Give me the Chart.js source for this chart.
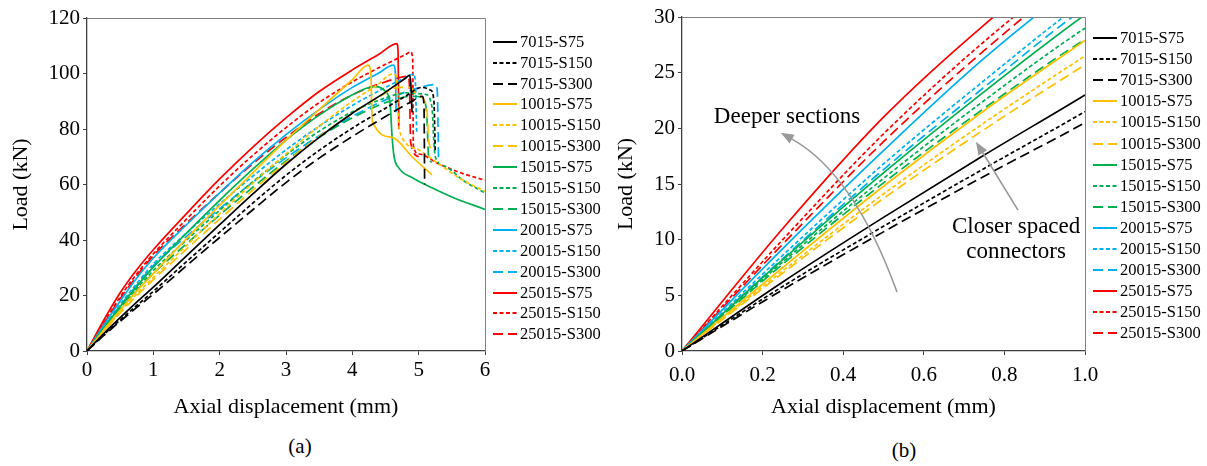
<!DOCTYPE html>
<html><head><meta charset="utf-8">
<script src="https://cdn.jsdelivr.net/npm/chart.js@4.4.1/dist/chart.umd.min.js"></script>
<style>
html,body{margin:0;padding:0;background:#fff}
body{width:1207px;height:466px;overflow:hidden;position:relative;font-family:"Liberation Serif","Times New Roman",serif;color:#000}
.wrap{position:absolute;top:0}
.row{position:absolute;height:20px;display:flex;align-items:center;white-space:nowrap;font-size:16.5px;line-height:20px}
.row svg{margin-right:3px;display:block}
.cap{position:absolute;font-size:21px;transform:translateX(-50%)}
</style></head><body>
<div class="wrap" style="left:0;width:495px;height:420px"><canvas id="ca" width="495" height="420"></canvas></div>
<div class="wrap" style="left:600px;width:515px;height:420px"><canvas id="cb" width="515" height="420"></canvas></div>
<div id="lega"></div><div id="legb"></div>
<div class="cap" style="left:300px;top:434px">(a)</div>
<div class="cap" style="left:904px;top:438px">(b)</div>
<script>
// ---------- data (axial displacement mm, load kN) ----------
const seriesNames = ["7015-S75","7015-S150","7015-S300","10015-S75","10015-S150","10015-S300","15015-S75","15015-S150","15015-S300","20015-S75","20015-S150","20015-S300","25015-S75","25015-S150","25015-S300"];

const s7015_S75  = [[0,0],[0.25,6.2],[0.5,12],[0.75,17.6],[1,23],[1.5,34.3],[2,45.5],[2.5,56.6],[3,67.3],[3.5,77],[4,85.7],[4.5,93.3],[4.8,98.3],[4.86,99.3],[4.88,97],[4.9,86]];
const s7015_S150 = [[0,0],[0.25,5.8],[0.5,11.2],[0.75,16.4],[1,21.5],[1.5,32.2],[2,42.8],[2.5,53.3],[3,63.3],[3.5,72.3],[4,80.3],[4.5,87.5],[4.8,91.8],[5.05,95],[5.18,94],[5.23,90],[5.25,72]];
const s7015_S300 = [[0,0],[0.25,5.5],[0.5,10.7],[0.75,15.7],[1,20.5],[1.5,30.7],[2,40.9],[2.5,50.9],[3,60.7],[3.5,69.5],[4,77.3],[4.5,84.5],[4.9,90],[5.05,91.8],[5.08,89],[5.09,60]];
const s10015_S75  = [[0,0],[0.25,7.5],[0.5,14.8],[0.75,21.6],[1,27.9],[1.5,40.5],[2,52.5],[2.5,64.2],[3,76],[3.5,87],[4,97.8],[4.24,103],[4.28,100],[4.3,83],[4.6,77],[4.9,70],[5.2,63.5]];
const s10015_S150 = [[0,0],[0.25,7.2],[0.5,14.1],[0.75,20.5],[1,26.5],[1.5,38],[2,49.5],[2.5,60.5],[3,71],[3.5,81],[4,90],[4.4,96.3],[4.6,99.8],[4.66,99.3],[4.7,82],[4.75,77],[5,72.5],[5.3,67.5],[5.6,62.5],[6,57.5]];
const s10015_S300 = [[0,0],[0.25,7],[0.5,13.7],[0.75,19.9],[1,25.7],[1.5,36.7],[2,47.5],[2.5,58],[3,68],[3.5,77.3],[4,85.6],[4.4,91.5],[4.7,95],[4.85,95],[5,92],[5.12,88],[5.15,76],[5.18,73]];
const s15015_S75  = [[0,0],[0.25,8.2],[0.5,16],[0.75,23.3],[1,30.2],[1.5,42.5],[2,54.3],[2.5,65.5],[3,76],[3.5,85],[4,92.3],[4.2,94.6],[4.35,95.3],[4.5,93.5],[4.57,89],[4.6,77],[4.63,70],[4.7,66],[4.9,62.5],[5.2,58.8],[5.5,55.5],[6,51]];
const s15015_S150 = [[0,0],[0.25,8],[0.5,15.5],[0.75,22.5],[1,29],[1.5,40],[2,50.7],[2.5,61],[3,70.6],[3.5,79.2],[4,86.2],[4.5,91.2],[4.8,93],[5.1,92.5],[5.2,88],[5.23,75],[5.25,70],[5.4,66.5],[5.7,61],[6,57]];
const s15015_S300 = [[0,0],[0.25,7.8],[0.5,15.1],[0.75,21.8],[1,28],[1.5,38.6],[2,49],[2.5,59],[3,68.5],[3.5,77],[4,84],[4.5,89.5],[4.9,91.8],[5.05,91.5],[5.12,86],[5.15,70],[5.2,68]];
const s20015_S75  = [[0,0],[0.25,9.2],[0.5,18],[0.75,26.3],[1,33.5],[1.5,45.5],[2,57],[2.5,68],[3,78],[3.5,87],[4,95],[4.4,100.2],[4.62,103],[4.65,100],[4.66,86]];
const s20015_S150 = [[0,0],[0.25,8.6],[0.5,16.8],[0.75,24.3],[1,31.4],[1.5,42.5],[2,53],[2.5,63],[3,72.5],[3.5,81],[4,88.5],[4.5,95],[4.8,98.5],[4.92,99.8],[4.95,97],[4.97,79]];
const s20015_S300 = [[0,0],[0.25,8.3],[0.5,16.3],[0.75,23.7],[1,30.8],[1.5,41.3],[2,51.3],[2.5,60.8],[3,69.6],[3.5,77.6],[4,84.6],[4.5,90.5],[5,94.8],[5.25,96],[5.28,94],[5.3,69]];
const s25015_S75  = [[0,0],[0.25,11],[0.5,21],[0.75,29.3],[1,36.5],[1.5,49.5],[2,62],[2.5,73.5],[3,84],[3.5,93.5],[4,101.3],[4.4,106.9],[4.67,110.8],[4.69,108],[4.7,80]];
const s25015_S150 = [[0,0],[0.25,10],[0.5,19.5],[0.75,27.8],[1,35],[1.5,47.5],[2,59.5],[2.5,70.5],[3,80.5],[3.5,89.5],[4,97],[4.5,103.3],[4.8,106.8],[4.88,107.8],[4.91,105],[4.92,74],[5,71],[5.3,67.5],[5.6,64.5],[6,61.5]];
const s25015_S300 = [[0,0],[0.25,9.6],[0.5,18.8],[0.75,27],[1,34.3],[1.5,46],[2,57],[2.5,67.5],[3,77],[3.5,85.5],[4,92.3],[4.5,97],[4.84,99],[4.86,96],[4.88,75],[5,70]];

const seriesData = [s7015_S75,s7015_S150,s7015_S300,s10015_S75,s10015_S150,s10015_S300,s15015_S75,s15015_S150,s15015_S300,s20015_S75,s20015_S150,s20015_S300,s25015_S75,s25015_S150,s25015_S300];

const ticksA_x = [0,1,2,3,4,5,6];
const ticksA_y = [0,20,40,60,80,100,120];
const ticksB_x = [0,0.2,0.4,0.6,0.8,1.0];
const ticksB_y = [0,5,10,15,20,25,30];

// ---------- styles ----------
const groupColors = ["#000000","#FFC000","#00B050","#00B0F0","#FF0000"];
const spacingDash = [[],[4,2.5],[10,5]];
const LW = 1.7;
const FONT = '"Liberation Serif","Times New Roman",serif';

function makeDatasets(){
  return seriesData.map((d,i)=>({
    label: seriesNames[i],
    data: d.map(p=>({x:p[0],y:p[1]})),
    borderColor: groupColors[Math.floor(i/3)],
    borderDash: spacingDash[i%3],
    borderWidth: LW,
    pointRadius: 0,
    fill: false,
    cubicInterpolationMode: 'monotone'
  }));
}

const framePlugin = {
  id:'frame',
  afterDatasetsDraw(chart){
    const {ctx, chartArea:a} = chart;
    ctx.save();
    ctx.strokeStyle = '#808080'; ctx.lineWidth = 1;
    ctx.beginPath();
    ctx.moveTo(a.left, a.top+0.5); ctx.lineTo(a.right+0.5, a.top+0.5); ctx.lineTo(a.right+0.5, a.bottom);
    ctx.stroke();
    ctx.restore();
  }
};

function scaleCfg(ticks, title, isX, yw, titlePad, fmt, tickPad){
  return {
    type:'linear', min:ticks[0], max:ticks[ticks.length-1],
    afterBuildTicks(s){ s.ticks = ticks.map(v=>({value:v})); },
    afterFit(s){
      if(isX) s.height = 69; else s.width = yw;
      s.paddingLeft = 0; s.paddingRight = 0; s.paddingTop = 0; s.paddingBottom = 0;
    },
    border:{display:true,color:'#404040',width:1.3},
    grid:{display:true,drawOnChartArea:false,drawTicks:true,tickLength:4,color:'#404040'},
    ticks:{color:'#000',font:{family:FONT,size:21},padding:tickPad,maxRotation:0,autoSkip:false,
      callback:(v)=>fmt?v.toFixed(1):String(v)},
    title:{display:true,text:title,color:'#000',font:{family:FONT,size:22},padding:{top:titlePad,bottom:0}}
  };
}

function baseOptions(xT,yT,yw,yPad,fmtX,xPad,xTickPad,top,right){
  return {
    responsive:false, animation:false, devicePixelRatio:1,
    layout:{padding:{top:top,right:right,left:0,bottom:0}},
    plugins:{legend:{display:false},tooltip:{enabled:false}},
    scales:{
      x: scaleCfg(xT,'Axial displacement (mm)',true,0,xPad,fmtX,xTickPad),
      y: scaleCfg(yT,'Load (kN)',false,yw,yPad,false,3)
    }
  };
}

// panel (a)
new Chart(document.getElementById('ca'),{
  type:'line',
  data:{datasets:makeDatasets()},
  options:baseOptions(ticksA_x,ticksA_y,87,8,false,5,3,18,10),
  plugins:[framePlugin]
});

// annotations of panel (b), in data coordinates
const deeperText = {x:0.2605, y:21.0, lines:["Deeper sections"]};
const deeperArrow = {from:[0.5335,5.3], ctrl:[0.4268,15.9], to:[0.245,19.6]};
const closerText = {x:0.829, y:11.14, lines:["Closer spaced","connectors"]};
const closerArrow = {from:[0.8337,12.66], ctrl:null, to:[0.7295,18.8]};

const notesPlugin = {
  id:'notes',
  afterDatasetsDraw(chart){
    const ctx = chart.ctx, sx = chart.scales.x, sy = chart.scales.y;
    const P = p => [sx.getPixelForValue(p[0]), sy.getPixelForValue(p[1])];
    ctx.save();
    ctx.strokeStyle = '#999999'; ctx.fillStyle = '#999999'; ctx.lineWidth = 1.6;
    [deeperArrow, closerArrow].forEach(a=>{
      const f = P(a.from), t = P(a.to);
      const c = a.ctrl ? P(a.ctrl) : null;
      const ref = c || f;
      const ang = Math.atan2(t[1]-ref[1], t[0]-ref[0]);
      const hl = 13, hw = 5;
      const bx = t[0]-hl*Math.cos(ang), by = t[1]-hl*Math.sin(ang);
      ctx.beginPath();
      ctx.moveTo(f[0],f[1]);
      if(c) ctx.quadraticCurveTo(c[0],c[1],bx,by); else ctx.lineTo(bx,by);
      ctx.stroke();
      ctx.beginPath();
      ctx.moveTo(t[0],t[1]);
      ctx.lineTo(bx+hw*Math.sin(ang), by-hw*Math.cos(ang));
      ctx.lineTo(bx-hw*Math.sin(ang), by+hw*Math.cos(ang));
      ctx.closePath(); ctx.fill();
    });
    ctx.fillStyle = '#000';
    ctx.font = '23px ' + FONT;
    ctx.textAlign = 'center'; ctx.textBaseline = 'middle';
    [deeperText, closerText].forEach(tx=>{
      const p = P([tx.x, tx.y]);
      tx.lines.forEach((l,k)=>ctx.fillText(l, p[0], p[1] + k*25));
    });
    ctx.restore();
  }
};

// panel (b)
new Chart(document.getElementById('cb'),{
  type:'line',
  data:{datasets:makeDatasets()},
  options:baseOptions(ticksB_x,ticksB_y,82,13,true,2,8,17,30),
  plugins:[framePlugin, notesPlugin]
});

// legends (HTML)
function buildLegend(id, left, top0, step){
  const el = document.getElementById(id);
  seriesNames.forEach((n,i)=>{
    const r = document.createElement('div');
    r.className = 'row';
    r.style.left = left + 'px';
    r.style.top = (top0 + i*step - 10) + 'px';
    const dash = spacingDash[i%3].join(',');
    r.innerHTML = '<svg width="24" height="6"><line x1="0" y1="3" x2="24" y2="3" stroke="'+groupColors[Math.floor(i/3)]+'" stroke-width="2"'+(dash?' stroke-dasharray="'+dash+'"':'')+'/></svg><span>'+n+'</span>';
    el.appendChild(r);
  });
}
buildLegend('lega', 493, 41.7, 20.9);
buildLegend('legb', 1093, 38, 21.1);
</script>
</body></html>
